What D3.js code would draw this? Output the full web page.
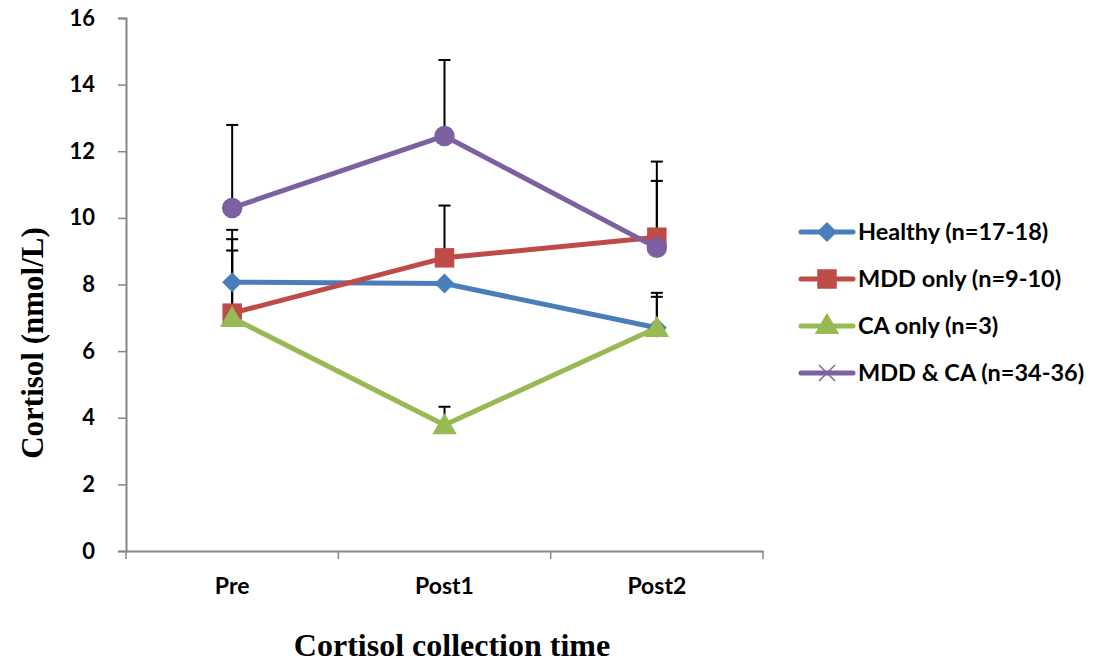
<!DOCTYPE html>
<html><head><meta charset="utf-8">
<script src="https://cdn.jsdelivr.net/npm/d3@7"></script>
<style>body{margin:0;background:#fff}svg{display:block}</style>
</head><body>
<svg id="c" width="1107" height="666"></svg>
<script>
const categories = ["Pre", "Post1", "Post2"];
const seriesNames = ["Healthy (n=17-18)", "MDD only (n=9-10)", "CA only (n=3)", "MDD & CA (n=34-36)"];
const healthy = [8.07, 8.03, 6.70];
const mddOnly = [7.14, 8.80, 9.42];
const caOnly = [7.00, 3.78, 6.70];
const mddCa = [10.30, 12.46, 9.10];
const healthyErr = [1.29, null, 1.05];
const mddOnlyErr = [2.50, 1.57, 2.27];
const caOnlyErr = [2.02, 0.55, 0.93];
const mddCaErr = [2.49, 2.28, 2.01];
const yTicks = [0, 2, 4, 6, 8, 10, 12, 14, 16];
const colors = ["#4a7ebb", "#be4b48", "#98b954", "#7d60a0"];
const markers = ["diamond", "square", "triangle", "circle"];
const legendMarkers = ["diamond", "square", "triangle", "x"];

const series = [
  {name: seriesNames[0], values: healthy, err: healthyErr},
  {name: seriesNames[1], values: mddOnly, err: mddOnlyErr},
  {name: seriesNames[2], values: caOnly, err: caOnlyErr},
  {name: seriesNames[3], values: mddCa, err: mddCaErr}
];

const svg = d3.select("#c");
const L = 126, R = 763, T = 18, B = 551;
const x = d3.scaleBand().domain(categories).range([L, R]);
const y = d3.scaleLinear().domain([0, 16]).range([B, T]);
const cx = c => x(c) + x.bandwidth() / 2;
const axisColor = "#868686";
const sans = "Lato, 'Open Sans', sans-serif";
const serif = "'Liberation Serif', 'Times New Roman', serif";

// y axis
const ya = svg.append("g").attr("transform", `translate(${L},0)`)
  .call(d3.axisLeft(y).tickValues(yTicks).tickSize(8).tickPadding(23).tickFormat(d3.format("d")));
ya.select(".domain").attr("stroke", axisColor).attr("stroke-width", 2);
ya.selectAll(".tick line").attr("stroke", axisColor).attr("stroke-width", 1.5);
ya.selectAll("text").attr("font-family", sans).attr("font-weight", "bold")
  .attr("font-size", 22).attr("fill", "#000");

// x axis
const xa = svg.append("g").attr("transform", `translate(0,${B})`)
  .call(d3.axisBottom(x).tickSize(0).tickPadding(27));
xa.select(".domain").attr("stroke", axisColor).attr("stroke-width", 2);
xa.selectAll("text").attr("font-family", sans).attr("font-weight", "bold")
  .attr("font-size", 23).attr("fill", "#000");
// boundary ticks
const bounds = [L].concat(categories.map(c => x(c) + x.bandwidth()));
svg.append("g").selectAll("line").data(bounds).join("line")
  .attr("x1", d => d).attr("x2", d => d).attr("y1", B).attr("y2", B + 8)
  .attr("stroke", axisColor).attr("stroke-width", 1.5);

// axis titles
svg.append("text").attr("transform", `translate(43,343) rotate(-90)`)
  .attr("text-anchor", "middle").attr("font-family", serif)
  .attr("font-weight", "bold").attr("font-size", 31).text("Cortisol (nmol/L)");
svg.append("text").attr("x", 452).attr("y", 656)
  .attr("text-anchor", "middle").attr("font-family", serif)
  .attr("font-weight", "bold").attr("font-size", 32).text("Cortisol collection time");

// error bars
const eg = svg.append("g");
series.forEach(s => {
  s.values.forEach((v, i) => {
    const e = s.err[i];
    if (e == null) return;
    const px = cx(categories[i]);
    eg.append("line").attr("x1", px).attr("x2", px).attr("y1", y(v)).attr("y2", y(v + e))
      .attr("stroke", "#000").attr("stroke-width", 2);
    eg.append("line").attr("x1", px - 6).attr("x2", px + 6).attr("y1", y(v + e)).attr("y2", y(v + e))
      .attr("stroke", "#000").attr("stroke-width", 2);
  });
});

function markerPath(type, size) {
  if (type === "diamond") {
    const r = Math.sqrt(size / 2);
    return `M0,${-r}L${r},0L0,${r}L${-r},0Z`;
  }
  const m = {square: d3.symbolSquare, triangle: d3.symbolTriangle, circle: d3.symbolCircle, x: d3.symbolX};
  return d3.symbol().type(m[type]).size(size)();
}
const markerSize = {diamond: 200, square: 380, triangle: 260, circle: 330, x: 180};

// lines and markers
const line = d3.line().x((d, i) => cx(categories[i])).y(d => y(d));
series.forEach((s, k) => {
  svg.append("path").datum(s.values).attr("d", line).attr("fill", "none")
    .attr("stroke", colors[k]).attr("stroke-width", 5).attr("stroke-linejoin", "round");
  svg.append("g").selectAll("path").data(s.values).join("path")
    .attr("transform", (d, i) => `translate(${cx(categories[i])},${y(d) + (markers[k] === "triangle" ? 2 : 0)})`)
    .attr("d", markerPath(markers[k], markerSize[markers[k]]))
    .attr("fill", colors[k]);
});

// legend
const lg = svg.append("g");
const rowY = [232, 279, 326, 373];
series.forEach((s, k) => {
  const g = lg.append("g").attr("transform", `translate(0,${rowY[k]})`);
  g.append("line").attr("x1", 801).attr("x2", 853).attr("y1", 0).attr("y2", 0)
    .attr("stroke", colors[k]).attr("stroke-width", 5).attr("stroke-linecap", "round");
  const mt = legendMarkers[k];
  const p = g.append("path").attr("transform", `translate(827,${mt === "triangle" ? 1 : 0})`)
    .attr("d", markerPath(mt, mt === "x" ? 160 : markerSize[mt]));
  if (mt === "x") p.attr("fill", "none").attr("stroke", colors[k]).attr("stroke-width", 1.5)
    .attr("d", "M-8,-8L8,8M-8,8L8,-8");
  else p.attr("fill", colors[k]);
  g.append("text").attr("x", 858).attr("y", 8).attr("font-family", sans)
    .attr("font-weight", "bold").attr("font-size", 23.5).attr("fill", "#000").text(s.name);
});
</script>
</body></html>
